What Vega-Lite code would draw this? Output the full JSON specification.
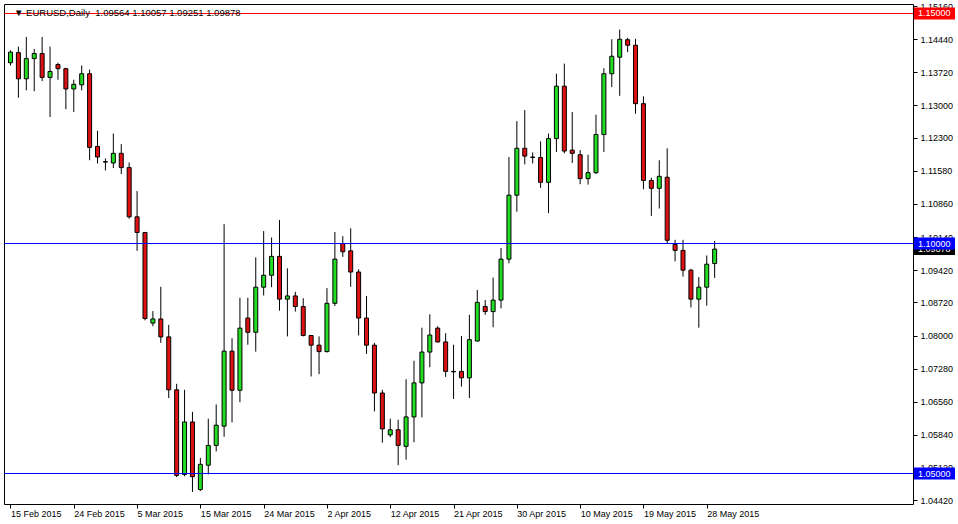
{
  "$schema": "https://vega.github.io/schema/vega-lite/v6.json",
  "width": 909,
  "height": 500,
  "autosize": {"type": "none"},
  "padding": {"left": 4, "top": 4, "right": 45, "bottom": 20},
  "background": "white",
  "config": {
    "view": {"stroke": "black", "strokeWidth": 1},
    "font": "Liberation Sans",
    "axis": {"labelOverlap": false, "labelFlush": false, "grid": false, "domain": false, "title": null}
  },
  "datasets": {
    "bars": [
      {"d":"2015-02-15","i":0,"o":1.1393,"h":1.1420,"l":1.1387,"c":1.1416},
      {"d":"2015-02-16","i":1,"o":1.1415,"h":1.1428,"l":1.1317,"c":1.1358},
      {"d":"2015-02-17","i":2,"o":1.1358,"h":1.1449,"l":1.1333,"c":1.1402},
      {"d":"2015-02-18","i":3,"o":1.1402,"h":1.1423,"l":1.1331,"c":1.1413},
      {"d":"2015-02-19","i":4,"o":1.1413,"h":1.1449,"l":1.1353,"c":1.1361},
      {"d":"2015-02-20","i":5,"o":1.1361,"h":1.1428,"l":1.1275,"c":1.1374},
      {"d":"2015-02-22","i":6,"o":1.1389,"h":1.1393,"l":1.1356,"c":1.1380},
      {"d":"2015-02-23","i":7,"o":1.1380,"h":1.1382,"l":1.1292,"c":1.1336},
      {"d":"2015-02-24","i":8,"o":1.1336,"h":1.1356,"l":1.1286,"c":1.1346},
      {"d":"2015-02-25","i":9,"o":1.1345,"h":1.1387,"l":1.1333,"c":1.1369},
      {"d":"2015-02-26","i":10,"o":1.1369,"h":1.1378,"l":1.1181,"c":1.1209},
      {"d":"2015-02-27","i":11,"o":1.1211,"h":1.1245,"l":1.1174,"c":1.1188},
      {"d":"2015-03-01","i":12,"o":1.1177,"h":1.1185,"l":1.1159,"c":1.1178},
      {"d":"2015-03-02","i":13,"o":1.1175,"h":1.1239,"l":1.1164,"c":1.1196},
      {"d":"2015-03-03","i":14,"o":1.1196,"h":1.1216,"l":1.1151,"c":1.1165},
      {"d":"2015-03-04","i":15,"o":1.1165,"h":1.1176,"l":1.1054,"c":1.1058},
      {"d":"2015-03-05","i":16,"o":1.1058,"h":1.1114,"l":1.0984,"c":1.1024},
      {"d":"2015-03-06","i":17,"o":1.1024,"h":1.1025,"l":1.0833,"c":1.0837},
      {"d":"2015-03-08","i":18,"o":1.0827,"h":1.0853,"l":1.0820,"c":1.0836},
      {"d":"2015-03-09","i":19,"o":1.0836,"h":1.0906,"l":1.0784,"c":1.0797},
      {"d":"2015-03-10","i":20,"o":1.0797,"h":1.0823,"l":1.0664,"c":1.0682},
      {"d":"2015-03-11","i":21,"o":1.0682,"h":1.0695,"l":1.0492,"c":1.0496},
      {"d":"2015-03-12","i":22,"o":1.0498,"h":1.0682,"l":1.0494,"c":1.0612},
      {"d":"2015-03-13","i":23,"o":1.0612,"h":1.0634,"l":1.0460,"c":1.0493},
      {"d":"2015-03-15","i":24,"o":1.0465,"h":1.0534,"l":1.0462,"c":1.0520},
      {"d":"2015-03-16","i":25,"o":1.0518,"h":1.0619,"l":1.0498,"c":1.0561},
      {"d":"2015-03-17","i":26,"o":1.0561,"h":1.0650,"l":1.0548,"c":1.0605},
      {"d":"2015-03-18","i":27,"o":1.0603,"h":1.1042,"l":1.0580,"c":1.0766},
      {"d":"2015-03-19","i":28,"o":1.0766,"h":1.0794,"l":1.0611,"c":1.0681},
      {"d":"2015-03-20","i":29,"o":1.0681,"h":1.0882,"l":1.0655,"c":1.0816},
      {"d":"2015-03-22","i":30,"o":1.0838,"h":1.0882,"l":1.0780,"c":1.0807},
      {"d":"2015-03-23","i":31,"o":1.0807,"h":1.0970,"l":1.0765,"c":1.0905},
      {"d":"2015-03-24","i":32,"o":1.0905,"h":1.1027,"l":1.0887,"c":1.0931},
      {"d":"2015-03-25","i":33,"o":1.0931,"h":1.1013,"l":1.0905,"c":1.0972},
      {"d":"2015-03-26","i":34,"o":1.0972,"h":1.1051,"l":1.0854,"c":1.0879},
      {"d":"2015-03-27","i":35,"o":1.0879,"h":1.0946,"l":1.0798,"c":1.0886},
      {"d":"2015-03-29","i":36,"o":1.0886,"h":1.0895,"l":1.0852,"c":1.0863},
      {"d":"2015-03-30","i":37,"o":1.0863,"h":1.0881,"l":1.0798,"c":1.0800},
      {"d":"2015-03-31","i":38,"o":1.0800,"h":1.0801,"l":1.0711,"c":1.0779},
      {"d":"2015-04-01","i":39,"o":1.0779,"h":1.0798,"l":1.0716,"c":1.0765},
      {"d":"2015-04-02","i":40,"o":1.0765,"h":1.0903,"l":1.0763,"c":1.0870},
      {"d":"2015-04-03","i":41,"o":1.0870,"h":1.1025,"l":1.0864,"c":1.0966},
      {"d":"2015-04-05","i":42,"o":1.1000,"h":1.1016,"l":1.0971,"c":1.0982},
      {"d":"2015-04-06","i":43,"o":1.0984,"h":1.1033,"l":1.0906,"c":1.0938},
      {"d":"2015-04-07","i":44,"o":1.0938,"h":1.0944,"l":1.0800,"c":1.0838},
      {"d":"2015-04-08","i":45,"o":1.0838,"h":1.0886,"l":1.0760,"c":1.0779},
      {"d":"2015-04-09","i":46,"o":1.0779,"h":1.0784,"l":1.0635,"c":1.0675},
      {"d":"2015-04-10","i":47,"o":1.0675,"h":1.0682,"l":1.0567,"c":1.0597},
      {"d":"2015-04-12","i":48,"o":1.0584,"h":1.0619,"l":1.0579,"c":1.0595},
      {"d":"2015-04-13","i":49,"o":1.0595,"h":1.0617,"l":1.0518,"c":1.0561},
      {"d":"2015-04-14","i":50,"o":1.0559,"h":1.0705,"l":1.0530,"c":1.0623},
      {"d":"2015-04-15","i":51,"o":1.0623,"h":1.0745,"l":1.0568,"c":1.0697},
      {"d":"2015-04-16","i":52,"o":1.0697,"h":1.0817,"l":1.0622,"c":1.0764},
      {"d":"2015-04-17","i":53,"o":1.0764,"h":1.0846,"l":1.0731,"c":1.0801},
      {"d":"2015-04-19","i":54,"o":1.0816,"h":1.0820,"l":1.0785,"c":1.0786},
      {"d":"2015-04-20","i":55,"o":1.0786,"h":1.0805,"l":1.0710,"c":1.0722},
      {"d":"2015-04-21","i":56,"o":1.0722,"h":1.0780,"l":1.0662,"c":1.0721},
      {"d":"2015-04-22","i":57,"o":1.0722,"h":1.0799,"l":1.0689,"c":1.0708},
      {"d":"2015-04-23","i":58,"o":1.0708,"h":1.0845,"l":1.0664,"c":1.0791},
      {"d":"2015-04-24","i":59,"o":1.0788,"h":1.0899,"l":1.0787,"c":1.0872},
      {"d":"2015-04-26","i":60,"o":1.0863,"h":1.0877,"l":1.0845,"c":1.0852},
      {"d":"2015-04-27","i":61,"o":1.0852,"h":1.0926,"l":1.0818,"c":1.0877},
      {"d":"2015-04-28","i":62,"o":1.0877,"h":1.0990,"l":1.0859,"c":1.0966},
      {"d":"2015-04-29","i":63,"o":1.0966,"h":1.1188,"l":1.0957,"c":1.1105},
      {"d":"2015-04-30","i":64,"o":1.1105,"h":1.1266,"l":1.1069,"c":1.1207},
      {"d":"2015-05-01","i":65,"o":1.1207,"h":1.1290,"l":1.1172,"c":1.1190},
      {"d":"2015-05-03","i":66,"o":1.1188,"h":1.1198,"l":1.1174,"c":1.1187},
      {"d":"2015-05-04","i":67,"o":1.1187,"h":1.1222,"l":1.1121,"c":1.1133},
      {"d":"2015-05-05","i":68,"o":1.1133,"h":1.1239,"l":1.1066,"c":1.1228},
      {"d":"2015-05-06","i":69,"o":1.1228,"h":1.1369,"l":1.1199,"c":1.1342},
      {"d":"2015-05-07","i":70,"o":1.1342,"h":1.1391,"l":1.1196,"c":1.1201},
      {"d":"2015-05-08","i":71,"o":1.1203,"h":1.1286,"l":1.1175,"c":1.1196},
      {"d":"2015-05-10","i":72,"o":1.1193,"h":1.1203,"l":1.1129,"c":1.1141},
      {"d":"2015-05-11","i":73,"o":1.1141,"h":1.1193,"l":1.1128,"c":1.1154},
      {"d":"2015-05-12","i":74,"o":1.1154,"h":1.1280,"l":1.1151,"c":1.1237},
      {"d":"2015-05-13","i":75,"o":1.1237,"h":1.1381,"l":1.1199,"c":1.1369},
      {"d":"2015-05-14","i":76,"o":1.1369,"h":1.1444,"l":1.1340,"c":1.1407},
      {"d":"2015-05-15","i":77,"o":1.1405,"h":1.1465,"l":1.1321,"c":1.1444},
      {"d":"2015-05-17","i":78,"o":1.1443,"h":1.1447,"l":1.1416,"c":1.1431},
      {"d":"2015-05-18","i":79,"o":1.1431,"h":1.1445,"l":1.1282,"c":1.1304},
      {"d":"2015-05-19","i":80,"o":1.1304,"h":1.1320,"l":1.1118,"c":1.1137},
      {"d":"2015-05-20","i":81,"o":1.1137,"h":1.1143,"l":1.1060,"c":1.1120},
      {"d":"2015-05-21","i":82,"o":1.1120,"h":1.1181,"l":1.1076,"c":1.1146},
      {"d":"2015-05-22","i":83,"o":1.1144,"h":1.1207,"l":1.1000,"c":1.1007},
      {"d":"2015-05-24","i":84,"o":1.0998,"h":1.1008,"l":1.0961,"c":1.0985},
      {"d":"2015-05-25","i":85,"o":1.0985,"h":1.1008,"l":1.0928,"c":1.0942},
      {"d":"2015-05-26","i":86,"o":1.0942,"h":1.0945,"l":1.0861,"c":1.0879},
      {"d":"2015-05-27","i":87,"o":1.0879,"h":1.0927,"l":1.0817,"c":1.0905},
      {"d":"2015-05-28","i":88,"o":1.0905,"h":1.0974,"l":1.0865,"c":1.0955},
      {"d":"2015-05-29","i":89,"o":1.09564,"h":1.10057,"l":1.09251,"c":1.09878}
    ],
    "levels": [
      {"kind":"resistance","v":1.15},
      {"kind":"support","v":1.10},
      {"kind":"support","v":1.05}
    ],
    "bid": [
      {"kind":"bid","v":1.09878}
    ],
    "header": [
      {"i":0.45,"v":1.15,"label":"▼ EURUSD,Daily\u00a0\u00a01.09564 1.10057 1.09251 1.09878"}
    ]
  },
  "layer": [
    {
      "data": {"name": "bars"},
      "mark": {"type": "rule", "color": "black", "strokeWidth": 1},
      "encoding": {
        "x": {
          "field": "i", "type": "quantitative",
          "scale": {"domain": [-0.1875, 113.4375], "nice": false, "zero": false},
          "axis": {
            "values": [0, 8, 16, 24, 32, 40, 48, 56, 64, 72, 80, 88],
            "tickCount": 40,
            "labelExpr": "['15 Feb 2015','24 Feb 2015','5 Mar 2015','15 Mar 2015','24 Mar 2015','2 Apr 2015','12 Apr 2015','21 Apr 2015','30 Apr 2015','10 May 2015','19 May 2015','28 May 2015'][round(datum.value / 8)]",
            "tickSize": 4, "tickColor": "black", "labelAlign": "left", "labelBaseline": "middle",
            "labelPadding": 5, "labelFontSize": 9, "labelColor": "black", "labelFont": "Liberation Sans"
          }
        },
        "y": {
          "field": "l", "type": "quantitative",
          "scale": {"domain": [1.04337, 1.152065], "nice": false, "zero": false},
          "axis": {
            "orient": "right",
            "values": [1.0442, 1.0512, 1.0584, 1.0656, 1.0728, 1.08, 1.0872, 1.0942, 1.1014, 1.1086, 1.1158, 1.123, 1.13, 1.1372, 1.1444, 1.1516],
            "tickCount": 40,
            "format": ".5f", "tickSize": 4, "tickColor": "black", "labelAlign": "left", "labelBaseline": "middle",
            "labelPadding": 3, "labelFontSize": 9, "labelColor": "black", "labelFont": "Liberation Sans"
          }
        },
        "y2": {"field": "h"}
      }
    },
    {
      "data": {"name": "bars"},
      "mark": {"type": "bar", "width": 4, "stroke": "black", "strokeWidth": 1, "opacity": 1},
      "encoding": {
        "x": {"field": "i", "type": "quantitative"},
        "y": {"field": "o", "type": "quantitative"},
        "y2": {"field": "c"},
        "color": {
          "condition": {"test": "datum.c >= datum.o", "value": "#22dd22"},
          "value": "#dd1111"
        }
      }
    },
    {
      "data": {"name": "levels"},
      "transform": [{"filter": "datum.kind == 'resistance'"}],
      "mark": {"type": "rule", "strokeWidth": 1, "stroke": "#ff0000", "color": "#ff0000"},
      "encoding": {"y": {"field": "v", "type": "quantitative"}}
    },
    {
      "data": {"name": "levels"},
      "transform": [{"filter": "datum.kind == 'support'"}],
      "mark": {"type": "rule", "strokeWidth": 1, "stroke": "#0000ff", "color": "#0000ff"},
      "encoding": {"y": {"field": "v", "type": "quantitative"}}
    },
    {
      "data": {"name": "header"},
      "mark": {"type": "text", "align": "left", "baseline": "middle", "fontSize": 9.5,
               "font": "Liberation Sans", "color": "black"},
      "encoding": {
        "x": {"field": "i", "type": "quantitative"},
        "y": {"field": "v", "type": "quantitative"},
        "text": {"field": "label"}
      }
    },
    {
      "data": {"name": "bid"},
      "mark": {"type": "point", "filled": true, "opacity": 1, "size": 7056, "strokeWidth": 0,
               "color": "#000000", "shape": "M0.02,-0.1429H1V0.1429H0.02Z"},
      "encoding": {
        "x": {"value": "width"},
        "y": {"field": "v", "type": "quantitative"}
      }
    },
    {
      "data": {"name": "bid"},
      "mark": {"type": "text", "align": "left", "baseline": "middle", "dx": 5, "fontSize": 9,
               "font": "Liberation Sans", "color": "white"},
      "encoding": {
        "x": {"value": "width"},
        "y": {"field": "v", "type": "quantitative"},
        "text": {"field": "v", "type": "quantitative", "format": ".5f"}
      }
    },
    {
      "data": {"name": "levels"},
      "transform": [{"filter": "datum.kind == 'resistance'"}],
      "mark": {"type": "point", "filled": true, "opacity": 1, "size": 7056, "strokeWidth": 0,
               "color": "#ff0000", "shape": "M0.02,-0.1429H1V0.1429H0.02Z"},
      "encoding": {
        "x": {"value": "width"},
        "y": {"field": "v", "type": "quantitative"}
      }
    },
    {
      "data": {"name": "levels"},
      "transform": [{"filter": "datum.kind == 'support'"}],
      "mark": {"type": "point", "filled": true, "opacity": 1, "size": 7056, "strokeWidth": 0,
               "color": "#0000ff", "shape": "M0.02,-0.1429H1V0.1429H0.02Z"},
      "encoding": {
        "x": {"value": "width"},
        "y": {"field": "v", "type": "quantitative"}
      }
    },
    {
      "data": {"name": "levels"},
      "mark": {"type": "text", "align": "left", "baseline": "middle", "dx": 5, "fontSize": 9,
               "font": "Liberation Sans", "color": "white"},
      "encoding": {
        "x": {"value": "width"},
        "y": {"field": "v", "type": "quantitative"},
        "text": {"field": "v", "type": "quantitative", "format": ".5f"}
      }
    }
  ]
}
